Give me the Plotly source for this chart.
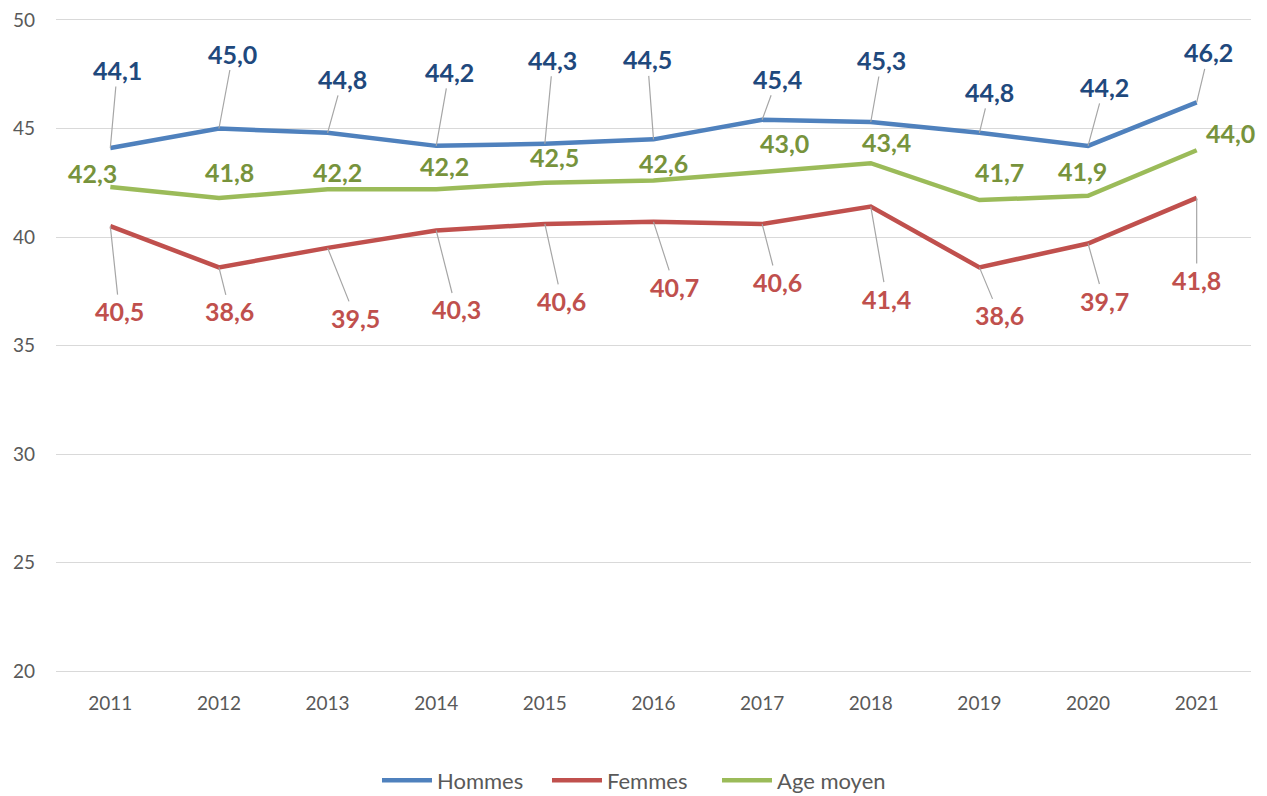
import plotly.graph_objects as go

years = ["2011", "2012", "2013", "2014", "2015", "2016", "2017", "2018", "2019", "2020", "2021"]
hommes = [44.1, 45.0, 44.8, 44.2, 44.3, 44.5, 45.4, 45.3, 44.8, 44.2, 46.2]
femmes = [40.5, 38.6, 39.5, 40.3, 40.6, 40.7, 40.6, 41.4, 38.6, 39.7, 41.8]
age_moyen = [42.3, 41.8, 42.2, 42.2, 42.5, 42.6, 43.0, 43.4, 41.7, 41.9, 44.0]

# label offsets in pixels (label centre relative to point)
off_h = [(7, -78), (14, -75), (15, -54), (13, -74), (8, -84), (-6, -80), (15, -41),
         (11, -62), (10, -41), (16, -59), (12, -50)]
off_f = [(9, 85), (11, 44), (28, 70), (20, 79), (17, 77), (21, 65), (15, 58),
         (16, 92), (20, 48), (16, 57), (0, 82)]
off_a = [(-18, -14), (11, -26), (10, -17), (8, -23), (10, -26), (10, -18), (22, -29),
         (16, -21), (20, -28), (-6, -25), (34, -17)]

C_H, C_HL = "#4F81BD", "#1F497D"
C_F, C_FL = "#C0504D", "#C0504D"
C_A, C_AL = "#9BBB59", "#77933C"
FONT = "Lato"
LBL = 25

fig = go.Figure()
for name, vals, col in [("Hommes", hommes, C_H), ("Femmes", femmes, C_F), ("Age moyen", age_moyen, C_A)]:
    fig.add_trace(go.Scatter(x=years, y=vals, name=name, mode="lines",
                             line=dict(color=col, width=4.5)))

def fmt(v):
    return "<b>" + f"{v:.1f}".replace(".", ",") + "</b>"

for vals, offs, col in [(hommes, off_h, C_HL), (femmes, off_f, C_FL)]:
    for i, (v, (dx, dy)) in enumerate(zip(vals, offs)):
        fig.add_annotation(x=i, y=v, xref="x", yref="y", text=fmt(v), showarrow=True,
                           ax=dx, ay=dy, arrowhead=0, arrowwidth=1.2, arrowcolor="#A6A6A6",
                           font=dict(family=FONT, size=LBL, color=col))
for i, (v, (dx, dy)) in enumerate(zip(age_moyen, off_a)):
    fig.add_annotation(x=i, y=v, xref="x", yref="y", text=fmt(v), showarrow=False,
                       xshift=dx, yshift=-dy,
                       font=dict(family=FONT, size=LBL, color=C_AL))

fig.update_layout(
    width=1267, height=796,
    margin=dict(l=56, r=16, t=20, b=125, autoexpand=False),
    paper_bgcolor="white", plot_bgcolor="white",
    font=dict(family=FONT, size=19, color="#595959"),
    showlegend=True,
    legend=dict(orientation="h", x=0.482, xanchor="center", y=-0.168, yanchor="middle",
                itemwidth=50, entrywidth=105,
                font=dict(family=FONT, size=22, color="#595959")),
    xaxis=dict(type="category", range=[-0.5, 10.5], showgrid=False, zeroline=False,
               showline=True, linecolor="#D9D9D9", linewidth=1, mirror=True,
               ticks="", ticklabelstandoff=15,
               tickfont=dict(family=FONT, size=19, color="#595959")),
    yaxis=dict(range=[20, 50], dtick=5, showgrid=True, gridcolor="#D9D9D9", gridwidth=1,
               zeroline=False, showline=False, ticks="", ticklabelstandoff=20,
               ticklabeloverflow="allow",
               tickfont=dict(family=FONT, size=19, color="#595959")),
)

fig.write_html("out.html", config={"displayModeBar": False},
               post_script="document.body.style.margin='0px';")
